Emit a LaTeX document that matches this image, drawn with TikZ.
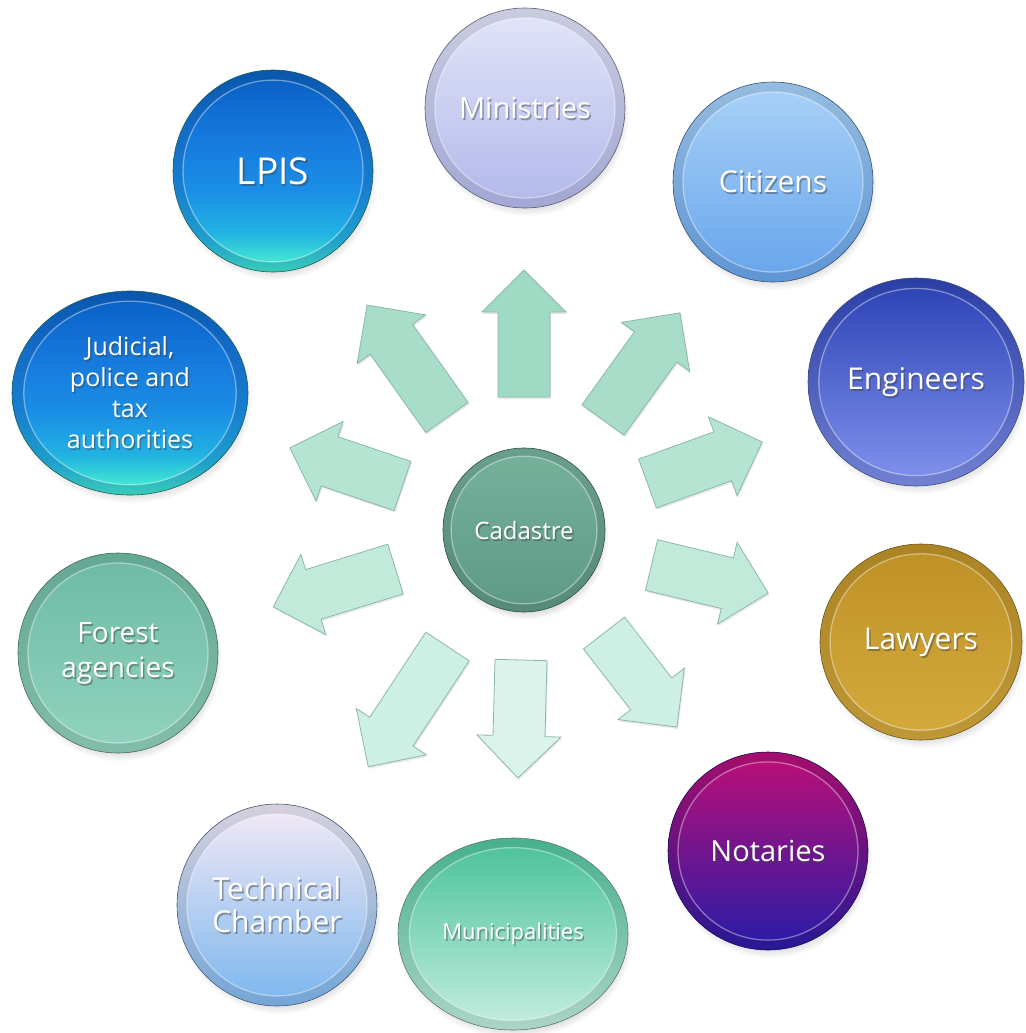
\documentclass[tikz,border=0pt]{standalone}
\usepackage{fontspec}
\setmainfont{Open Sans}
\usetikzlibrary{shapes.geometric,shadows,calc}

\definecolor{arrowedge}{HTML}{8CB8A8}
\definecolor{aA}{HTML}{9FDAC5}
\definecolor{aB}{HTML}{A8DEC9}
\definecolor{aC}{HTML}{B5E4D2}
\definecolor{aD}{HTML}{C2EADB}
\definecolor{aE}{HTML}{CEEFE3}
\definecolor{aF}{HTML}{DAF4EC}

\definecolor{cadT}{HTML}{75B09B}\definecolor{cadM}{HTML}{69A48F}\definecolor{cadB}{HTML}{5F9A86}
\definecolor{minT}{HTML}{E0E3F8}\definecolor{minM}{HTML}{CED3F3}\definecolor{minB}{HTML}{B4BAEB}
\definecolor{citT}{HTML}{A6D0F7}\definecolor{citM}{HTML}{86BDF3}\definecolor{citB}{HTML}{6AA6EC}
\definecolor{engT}{HTML}{2F45B8}\definecolor{engM}{HTML}{4168AC}\definecolor{engB}{HTML}{7E8FEA}
\definecolor{lawT}{HTML}{BF9227}\definecolor{lawM}{HTML}{C99F30}\definecolor{lawB}{HTML}{D3A93C}
\definecolor{notT}{HTML}{B80F78}\definecolor{notM}{HTML}{6B0E9E}\definecolor{notB}{HTML}{2C1BA6}
\definecolor{munT}{HTML}{4FC49C}\definecolor{munM}{HTML}{62CFA8}\definecolor{munB}{HTML}{BFECDC}
\definecolor{tecT}{HTML}{EEE7F5}\definecolor{tecM}{HTML}{B5D3F5}\definecolor{tecB}{HTML}{80B8EE}
\definecolor{forT}{HTML}{6FBBA4}\definecolor{forM}{HTML}{80C6B0}\definecolor{forB}{HTML}{90D2BD}

\definecolor{bsT}{HTML}{0A62C6}
\definecolor{bs3}{HTML}{1678DC}
\definecolor{bs2}{HTML}{1A8EE6}
\definecolor{bs1}{HTML}{22B2E2}
\definecolor{bsB}{HTML}{42E8D2}
\colorlet{bsTd}{bsT!88!black}
\colorlet{bs3d}{bs3!90!black}
\colorlet{bs2d}{bs2!90!black}
\colorlet{bs1d}{bs1!90!black}
\colorlet{bsBd}{bsB!88!black}

\pgfdeclareverticalshading{blueshade}{100bp}{%
  color(0bp)=(bsB); color(25bp)=(bsB); color(33bp)=(bs1); color(45bp)=(bs2);
  color(60bp)=(bs3); color(75bp)=(bsT); color(100bp)=(bsT)}
\pgfdeclareverticalshading{blueshaderim}{100bp}{%
  color(0bp)=(bsBd); color(25bp)=(bsBd); color(33bp)=(bs1d); color(45bp)=(bs2d);
  color(60bp)=(bs3d); color(75bp)=(bsTd); color(100bp)=(bsTd)}

\tikzset{
  rimshape/.style={ellipse, inner sep=0pt, draw=#1, line width=0.6pt,
    circular drop shadow={shadow xshift=2pt, shadow yshift=-6pt, shadow scale=1.02, opacity=.4}},
  innershape/.style={ellipse, inner sep=0pt, draw=white, draw opacity=.4, line width=1.3pt},
  txt/.style={align=center, inner sep=0pt},
  arrowstyle/.style={draw=arrowedge, line width=0.8pt, line join=miter,
    drop shadow={shadow xshift=1pt, shadow yshift=-2pt, opacity=.18}},
}

% standard three-colour fills for a colour prefix
\newcommand\stdfill[1]{\tikzset{
  #1 inner/.style={top color=#1T, middle color=#1M, bottom color=#1B},
  #1 outer/.style={top color=#1T!90!black, middle color=#1M!95!black, bottom color=#1B!90!black},
  #1 edge/.style={draw=#1B!50!black}}}
\stdfill{cad}\stdfill{min}\stdfill{cit}\stdfill{eng}\stdfill{law}
\stdfill{not}\stdfill{mun}\stdfill{tec}\stdfill{for}
\tikzset{
  blue inner/.style={shade, shading=blueshade},
  blue outer/.style={shade, shading=blueshaderim},
  blue edge/.style={draw=bsB!40!black}}

% #1 name, #2 x, #3 y, #4 width, #5 height, #6 colour prefix, #7 font size, #8 line distance, #9 text
\newcommand\bubble[9]{%
  \node[rimshape, #6 edge, minimum width=#4, minimum height=#5, #6 outer] (#1) at (#2,-#3) {};
  \node[innershape, minimum width=0.9*#4, minimum height=0.9*#5, #6 inner] (#1-in) at (#1) {};
  \node[txt, text=black!75, opacity=.45, font=\fontsize{#7}{#8}\selectfont] at ($(#1)+(1.5,-2)$) {#9};
  \node[txt, text=white, font=\fontsize{#7}{#8}\selectfont] (#1-label) at (#1) {#9};
}

% #1 tail x, #2 tail y, #3 angle, #4 length, #5 colour
\newcommand\blockarrow[5]{%
  \begin{scope}[shift={(#1,-#2)}, rotate=#3]
    \path[arrowstyle, fill=#5] (0,-26) -- ({#4-42},-26) -- ({#4-42},-42) -- (#4,0)
      -- ({#4-42},42) -- ({#4-42},26) -- (0,26) -- cycle;
  \end{scope}}

\begin{document}
\begin{tikzpicture}[x=1pt,y=1pt]
\useasboundingbox (0,0) rectangle (1025,-1033);

% arrows
\blockarrow{524}{397}{90}{127}{aA}
\blockarrow{603}{420}{54.3}{132}{aB}
\blockarrow{647.5}{483.5}{19.9}{122}{aC}
\blockarrow{651.5}{565}{-13.5}{120}{aD}
\blockarrow{604}{633}{-52.2}{119}{aE}
\blockarrow{521}{660}{-91.5}{118}{aF}
\blockarrow{447.5}{646.5}{-123.4}{144}{aE}
\blockarrow{395.5}{569}{197.2}{128}{aD}
\blockarrow{402.5}{486}{161.3}{119}{aC}
\blockarrow{447}{417.5}{125.4}{138}{aB}

% bubbles
\bubble{cad}{524}{530}{162}{164}{cad}{24}{28}{Cadastre}
\bubble{min}{525}{108}{200}{200}{min}{29}{34}{Ministries}
\bubble{cit}{773}{182}{200}{200}{cit}{30}{34}{Citizens}
\bubble{eng}{916}{382}{216}{208}{eng}{30}{34}{Engineers}
\bubble{law}{921}{642}{202}{196}{law}{30}{34}{Lawyers}
\bubble{not}{768}{851}{200}{198}{not}{29}{34}{Notaries}
\bubble{mun}{513}{934}{230}{192}{mun}{22}{26}{Municipalities}
\bubble{tec}{277}{905}{200}{202}{tec}{30}{33}{Technical\\Chamber}
\bubble{for}{118}{653}{200}{200}{for}{28}{35}{Forest\\agencies}
\bubble{jud}{130}{393}{236}{204}{blue}{25}{31}{Judicial,\\police and\\tax\\authorities}
\bubble{lpi}{273}{171}{200}{202}{blue}{37}{40}{LPIS}
\end{tikzpicture}
\end{document}
